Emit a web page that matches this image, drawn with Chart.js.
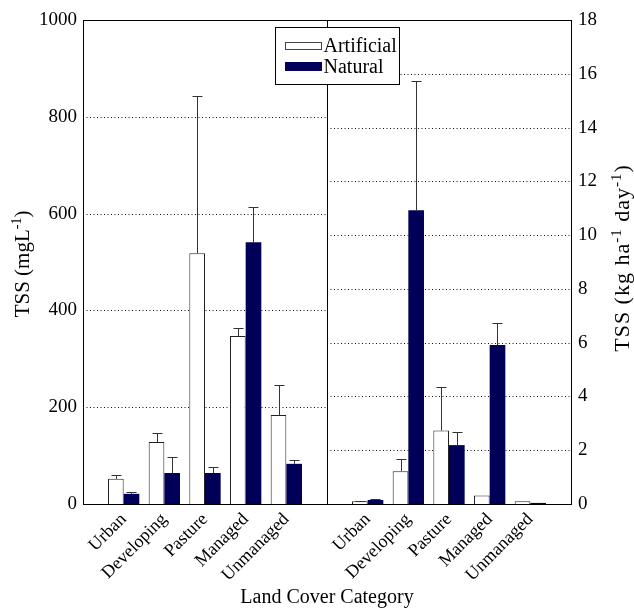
<!DOCTYPE html>
<html>
<head>
<meta charset="utf-8">
<script src="https://cdn.jsdelivr.net/npm/chart.js@4.4.1/dist/chart.umd.min.js"></script>
<style>
html,body{margin:0;padding:0;background:#fff;}
#wrap{width:634px;height:609px;position:relative;}
</style>
</head>
<body>
<div id="wrap"><canvas id="c" width="634" height="609"></canvas></div>
<script>
const categories = ['Urban', 'Developing', 'Pasture', 'Managed', 'Unmanaged'];
const seriesNames = ['Artificial', 'Natural'];
// Left panel: concentration (mg/L)
const concArtificial = [52, 128, 518, 347, 184];
const concArtificialErr = [8, 19, 325, 17, 62];
const concNatural = [21, 64, 64, 541, 83];
const concNaturalErr = [3, 34, 13, 73, 7];
// Right panel: load (kg/ha/day)
const loadArtificial = [0.10, 1.22, 2.73, 0.32, 0.10];
const loadArtificialErr = [0.02, 0.45, 1.63, 0.0, 0.0];
const loadNatural = [0.15, 10.92, 2.19, 5.91, 0.04];
const loadNaturalErr = [0.05, 4.82, 0.48, 0.81, 0.0];
const concTicks = [0, 200, 400, 600, 800, 1000];
const loadTicks = [0, 2, 4, 6, 8, 10, 12, 14, 16, 18];
const xTitle = 'Land Cover Category';
const leftTitle = [['TSS (mgL', false], ['-1', true], [')', false]];
const rightTitle = [['TSS (kg ha', false], ['-1', true], [' day', false], ['-1', true], [')', false]];

const NAVY = '#000058';
const FONT = "'Liberation Serif', 'DejaVu Serif', serif";

// x positions: 0 = left edge, 1..5 left panel, 6 = divider, 7..11 right panel, 12 = right edge
const labels = [''].concat(categories, [''], categories, ['']);
const nulls5 = [null, null, null, null, null];
function leftData(arr) { return [null].concat(arr, [null], nulls5, [null]); }
function rightData(arr) { return [null].concat(nulls5, [null], arr, [null]); }

const errMap = [
  leftData(concArtificialErr),
  leftData(concNaturalErr),
  rightData(loadArtificialErr),
  rightData(loadNaturalErr)
];

function drawRichVertical(ctx, parts, cx, cy, size, spacing) {
  const big = size + 'px ' + FONT, small = Math.round(size * 0.68) + 'px ' + FONT;
  ctx.save();
  ctx.letterSpacing = spacing + 'px';
  let total = 0;
  parts.forEach(p => { ctx.font = p[1] ? small : big; total += ctx.measureText(p[0]).width; });
  ctx.translate(cx, cy);
  ctx.rotate(-Math.PI / 2);
  ctx.fillStyle = '#000';
  ctx.textAlign = 'left';
  ctx.textBaseline = 'alphabetic';
  let x = -total / 2;
  parts.forEach(p => {
    ctx.font = p[1] ? small : big;
    ctx.fillText(p[0], x, p[1] ? -Math.round(size * 0.38) : 0);
    x += ctx.measureText(p[0]).width;
  });
  ctx.restore();
}

const panelPlugin = {
  id: 'panelPlugin',
  beforeDatasetsDraw(chart) {
    const ctx = chart.ctx, ca = chart.chartArea;
    const xs = chart.scales.x, yL = chart.scales.yL, yR = chart.scales.yR;
    const mid = xs.getPixelForValue(6);
    ctx.save();
    ctx.strokeStyle = '#111';
    ctx.lineWidth = 1;
    ctx.setLineDash([1, 2.5]);
    concTicks.forEach(v => {
      if (v <= 0 || v >= 1000) return;
      const y = Math.round(yL.getPixelForValue(v)) + 0.5;
      ctx.beginPath(); ctx.moveTo(ca.left, y); ctx.lineTo(mid, y); ctx.stroke();
    });
    loadTicks.forEach(v => {
      if (v <= 0 || v >= 18) return;
      const y = Math.round(yR.getPixelForValue(v)) + 0.5;
      ctx.beginPath(); ctx.moveTo(mid, y); ctx.lineTo(ca.right, y); ctx.stroke();
    });
    ctx.setLineDash([]);
    ctx.strokeStyle = '#000';
    ctx.beginPath();
    ctx.moveTo(Math.round(mid) + 0.5, ca.top); ctx.lineTo(Math.round(mid) + 0.5, ca.bottom);
    ctx.moveTo(ca.left, Math.round(ca.top) + 0.5); ctx.lineTo(ca.right, Math.round(ca.top) + 0.5);
    ctx.stroke();
    ctx.restore();
  },
  afterDatasetsDraw(chart) {
    const ctx = chart.ctx;
    ctx.save();
    ctx.strokeStyle = '#333';
    ctx.lineWidth = 1;
    chart.data.datasets.forEach((ds, di) => {
      const meta = chart.getDatasetMeta(di);
      const ys = chart.scales[ds.yAxisID];
      meta.data.forEach((bar, i) => {
        const v = ds.data[i], e = errMap[di][i];
        if (v == null || e == null || e <= 0) return;
        const x = Math.round(bar.x) + 0.5;
        const y0 = ys.getPixelForValue(v);
        const y1 = Math.round(ys.getPixelForValue(v + e)) + 0.5;
        ctx.beginPath();
        ctx.moveTo(x, y0); ctx.lineTo(x, y1);
        ctx.moveTo(x - 5, y1); ctx.lineTo(x + 5, y1);
        ctx.stroke();
      });
    });
    ctx.restore();
  },
  afterDraw(chart) {
    const ctx = chart.ctx, ca = chart.chartArea;
    const mid = chart.scales.x.getPixelForValue(6);
    const bx = Math.round(mid - 52) + 0.5, by = Math.round(ca.top + 7) + 0.5, bw = 124, bh = 57;
    ctx.save();
    ctx.fillStyle = '#fff';
    ctx.fillRect(bx, by, bw, bh);
    ctx.strokeStyle = '#000';
    ctx.lineWidth = 1;
    ctx.strokeRect(bx, by, bw, bh);
    ctx.font = '20px ' + FONT;
    ctx.textBaseline = 'middle';
    ctx.textAlign = 'left';
    const sx = bx + 10, sw = 36;
    ctx.fillStyle = '#fff';
    ctx.fillRect(sx, by + 15, sw, 7);
    ctx.strokeStyle = '#444';
    ctx.strokeRect(sx, by + 15, sw, 7);
    ctx.fillStyle = '#000';
    ctx.fillText(seriesNames[0], sx + sw + 2, by + 19);
    ctx.fillStyle = NAVY;
    ctx.fillRect(sx - 0.5, by + 34.5, sw + 1, 9);
    ctx.fillStyle = '#000';
    ctx.fillText(seriesNames[1], sx + sw + 2, by + 40);
    ctx.restore();
    // axis titles with superscripts
    const cy = (ca.top + ca.bottom) / 2;
    drawRichVertical(ctx, leftTitle, 29, cy + 2, 21, 0);
    drawRichVertical(ctx, rightTitle, 629, cy - 4, 22, 1);
  }
};

const tickFont = { family: FONT, size: 19 };
const xTickFont = { family: FONT, size: 18 };
const titleFont = { family: FONT, size: 20, lineHeight: 1.0 };

new Chart(document.getElementById('c'), {
  type: 'bar',
  data: {
    labels: labels,
    datasets: [
      { label: seriesNames[0], data: leftData(concArtificial), yAxisID: 'yL', backgroundColor: '#fff', borderColor: '#222', borderWidth: 1 },
      { label: seriesNames[1], data: leftData(concNatural), yAxisID: 'yL', backgroundColor: NAVY, borderColor: NAVY, borderWidth: 0 },
      { label: seriesNames[0] + ' ', data: rightData(loadArtificial), yAxisID: 'yR', backgroundColor: '#fff', borderColor: '#222', borderWidth: 1 },
      { label: seriesNames[1] + ' ', data: rightData(loadNatural), yAxisID: 'yR', backgroundColor: NAVY, borderColor: NAVY, borderWidth: 0 }
    ]
  },
  options: {
    responsive: false,
    animation: false,
    devicePixelRatio: 1,
    skipNull: true,
    categoryPercentage: 0.77,
    barPercentage: 1.0,
    layout: { padding: { top: 20, left: 0, right: 0, bottom: 0 } },
    plugins: { legend: { display: false }, tooltip: { enabled: false } },
    scales: {
      x: {
        type: 'category',
        offset: false,
        grid: { display: false, drawTicks: false },
        border: { display: true, color: '#000', width: 1 },
        ticks: { autoSkip: false, minRotation: 45, maxRotation: 45, color: '#000', font: xTickFont, padding: 5 },
        title: { display: true, text: xTitle, color: '#000', font: titleFont, padding: { top: 0, bottom: 1 } },
        afterFit(s) { s.height = 105; }
      },
      yL: {
        type: 'linear',
        position: 'left',
        min: 0, max: 1000,
        afterBuildTicks(s) { s.ticks = concTicks.map(v => ({ value: v })); },
        grid: { display: false, drawTicks: false },
        border: { display: true, color: '#000', width: 1 },
        ticks: { color: '#000', font: tickFont, padding: 6, callback: v => String(v) },
        title: { display: false },
        afterFit(s) { s.width = 83; }
      },
      yR: {
        type: 'linear',
        position: 'right',
        min: 0, max: 18,
        afterBuildTicks(s) { s.ticks = loadTicks.map(v => ({ value: v })); },
        grid: { display: false, drawTicks: false },
        border: { display: true, color: '#000', width: 1 },
        ticks: { color: '#000', font: tickFont, padding: 7, callback: v => String(v) },
        title: { display: false },
        afterFit(s) { s.width = 63; }
      }
    }
  },
  plugins: [panelPlugin]
});
</script>
</body>
</html>
